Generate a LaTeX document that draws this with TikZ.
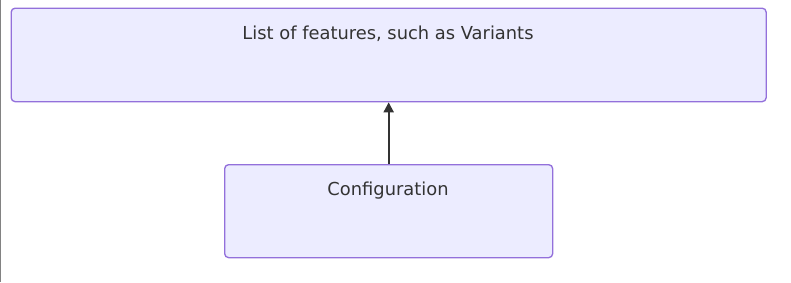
\documentclass[tikz,border=0pt]{standalone}
\usepackage{fontspec}
\setmainfont{DejaVu Sans}
\usetikzlibrary{positioning, arrows.meta}
\definecolor{NodeFill}{RGB}{236,236,255}
\definecolor{NodeLine}{RGB}{147,112,219}
\definecolor{EdgeGray}{RGB}{51,51,51}
\definecolor{FrameGray}{RGB}{130,130,130}
\tikzset{
  featbox/.style={draw=NodeLine, line width=1pt, fill=NodeFill, rounded corners=3pt},
  boxtext/.style={font=\fontsize{13.4}{15}\selectfont, text=EdgeGray, inner sep=0pt},
  linkarr/.style={-{Triangle[length=7.5pt, width=7.5pt]}, line width=1.5pt, EdgeGray},
}
\begin{document}
\begin{tikzpicture}[x=0.75pt, y=-0.75pt]
    \useasboundingbox (0,0) rectangle (791,282);
    \draw[FrameGray, line width=1pt] (0.5,0) -- (0.5,282);
    % feature list
    \node[featbox, minimum width=755*0.75pt, minimum height=93.5*0.75pt, anchor=north west]
      (features) at (10.5,7.5) {};
    \node[boxtext] (featlabel) at (388,33.5) {List of features, such as Variants};
    % configuration
    \node[featbox, minimum width=328*0.75pt, minimum height=93*0.75pt, anchor=north west]
      (config) at (224,164) {};
    \node[boxtext] (configlabel) at (388,190.5) {Configuration};
    \draw[linkarr] (config.north) -- (features.south);
  \end{tikzpicture}
\end{document}
